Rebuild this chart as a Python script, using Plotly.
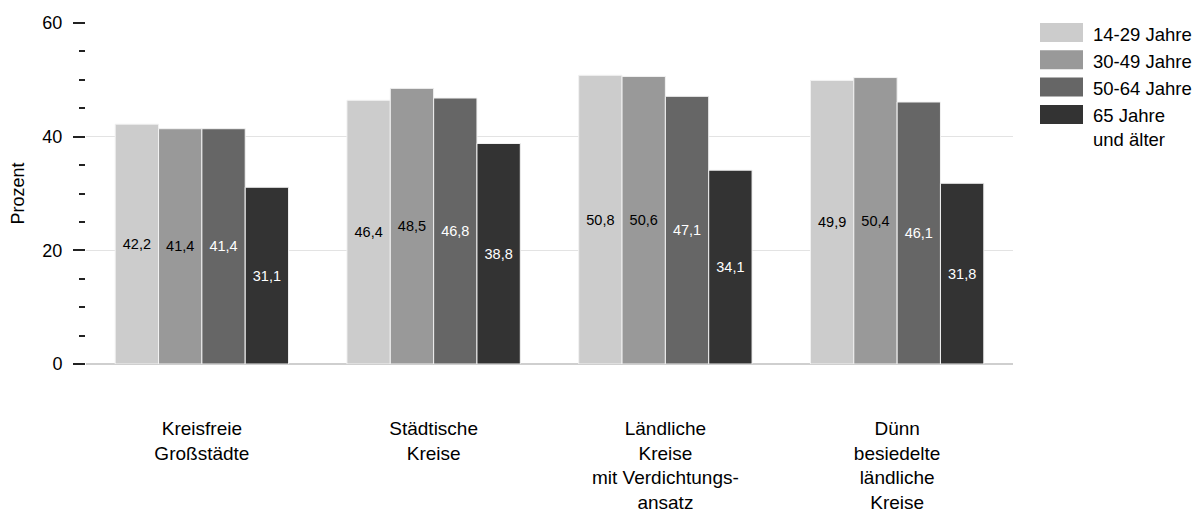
import plotly.graph_objects as go

# Daten
kategorien = [
    "Kreisfreie<br>Großstädte",
    "Städtische<br>Kreise",
    "Ländliche<br>Kreise<br>mit Verdichtungs-<br>ansatz",
    "Dünn<br>besiedelte<br>ländliche<br>Kreise",
]
altersgruppen = ["14-29 Jahre", "30-49 Jahre", "50-64 Jahre", "65 Jahre<br>und älter"]
werte_14_29 = [42.2, 46.4, 50.8, 49.9]
werte_30_49 = [41.4, 48.5, 50.6, 50.4]
werte_50_64 = [41.4, 46.8, 47.1, 46.1]
werte_65 = [31.1, 38.8, 34.1, 31.8]
y_ticks = [0, 20, 40, 60]

farben = ["#cccccc", "#999999", "#666666", "#333333"]
textfarben = ["#000000", "#000000", "#ffffff", "#ffffff"]
serien = [werte_14_29, werte_30_49, werte_50_64, werte_65]

# die Seite hat 8px Rand (body margin)
OFF = 8
W, H = 1203 - 2 * OFF, 513 - OFF
L, T = 86 - OFF, 23 - OFF
R = W - (1013 - OFF)
B = H - (364 - OFF)
pw, ph = W - L - R, H - T - B

def px_x(x):
    return (x - OFF - L) / pw

def px_y(y):
    return 1 - (y - OFF - T) / ph

fig = go.Figure()
for name, vals, col, tcol in zip(altersgruppen, serien, farben, textfarben):
    fig.add_trace(go.Bar(
        x=kategorien, y=vals, name=name,
        marker=dict(color=col, line=dict(color="#f2f2f2", width=1)),
        texttemplate="%{y:.1f}", textposition="inside", insidetextanchor="middle",
        textfont=dict(size=14.5, color=tcol), constraintext="none",
        showlegend=False,
    ))

# Legende von Hand
for i, (name, col) in enumerate(zip(altersgruppen, farben)):
    top = 23 + i * 27.3
    fig.add_shape(type="rect", xref="paper", yref="paper",
                  x0=px_x(1040), x1=px_x(1083), y0=px_y(top), y1=px_y(top + 19),
                  fillcolor=col, line=dict(width=0))
    fig.add_annotation(xref="paper", yref="paper", x=px_x(1091), y=px_y(top - 1.5),
                       xanchor="left", yanchor="top", align="left", showarrow=False,
                       text=name, font=dict(size=18.5, color="#000"))

fig.update_layout(
    width=W, height=H,
    margin=dict(l=L, r=R, t=T, b=B, autoexpand=False),
    plot_bgcolor="white", paper_bgcolor="white",
    font=dict(family="Liberation Sans, Arial, sans-serif", color="#000"),
    separators=",.",
    barmode="group", bargap=0.252, bargroupgap=0,
)
fig.update_yaxes(
    range=[0, 60], tickvals=y_ticks, ticks="outside", ticklen=12, tickwidth=2,
    tickcolor="#222", ticklabelstandoff=7, tickfont=dict(size=18),
    showgrid=True, gridcolor="#e3e3e3", gridwidth=1,
    zeroline=True, zerolinecolor="#cfcfcf", zerolinewidth=2, showline=False,
    minor=dict(dtick=5, ticks="outside", ticklen=6, tickwidth=2, tickcolor="#222", showgrid=False),
    title=dict(text="Prozent", font=dict(size=18), standoff=14),
)
fig.update_xaxes(
    showline=False, ticks="", tickfont=dict(size=19), ticklabelstandoff=51,
)

fig.write_html("out.html")
